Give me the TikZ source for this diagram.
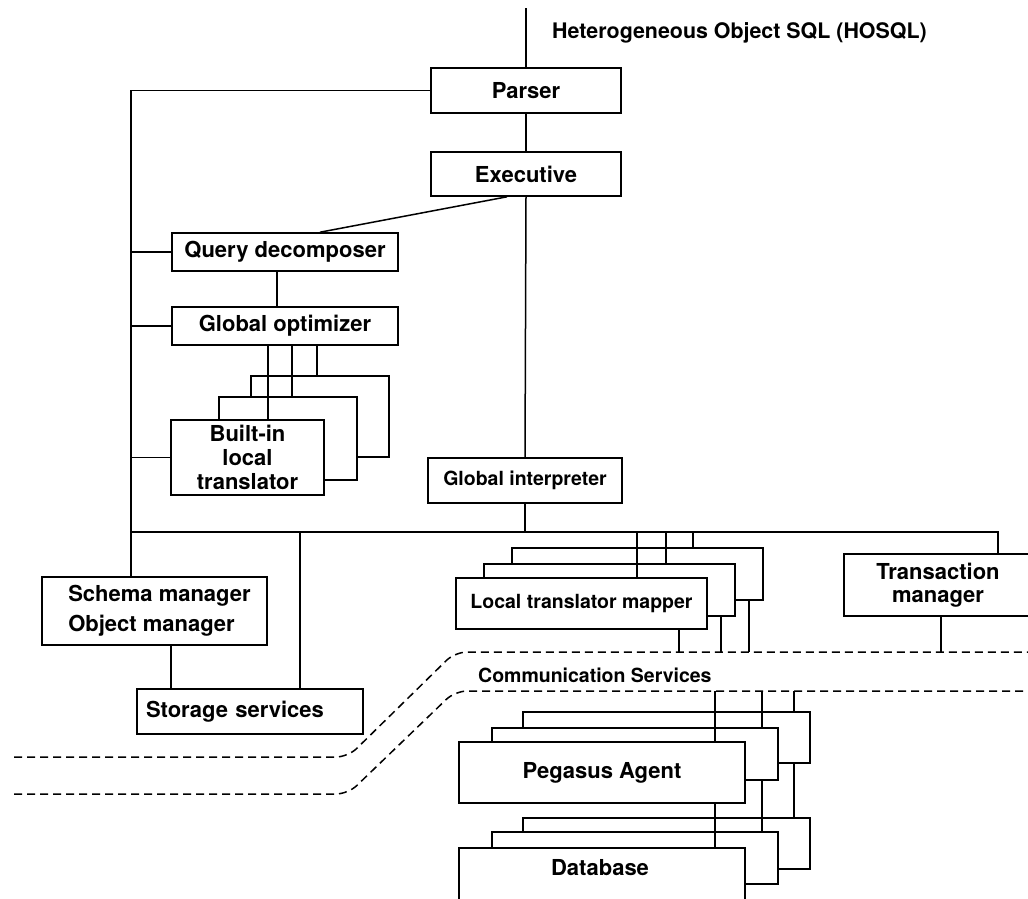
\documentclass[tikz,border=0pt]{standalone}
\usepackage{fontspec}
\setmainfont{TeX Gyre Heros}
\begin{document}
\begin{tikzpicture}[x=1pt,y=-1pt,
  every node/.style={font=\bfseries\fontsize{22}{26}\selectfont},
  smaller/.style={font=\bfseries\fontsize{19.5}{23}\selectfont},
  box/.style={draw, fill=white, line width=1.6pt, inner sep=0pt, align=center},
  wire/.style={line width=1.5pt},
  netline/.style={line width=1.5pt, dash pattern=on 8pt off 5pt, rounded corners=12pt}]
\useasboundingbox (0,0) rectangle (1028,898);
\clip (0,0) rectangle (1028,898);

% --- upper chain: parser, executive, decomposer, optimizer
\node[box, minimum width=190pt, minimum height=45pt] (parser) at (526,90.5) {Parser};
\node[box, minimum width=190pt, minimum height=44pt] (exec) at (526,174) {Executive};
\node[box, minimum width=226pt, minimum height=38pt] (qd) at (285,252) {Query decomposer};
\node[box, minimum width=226pt, minimum height=38pt] (go) at (285,326) {Global optimizer};

% --- stacked built-in translators (back to front)
\node[box, minimum width=138pt, minimum height=81pt] (bt3) at (320,416.5) {};
\node[box, minimum width=138pt, minimum height=83pt] (bt2) at (288,438.5) {};
\node[box, minimum width=153pt, minimum height=75pt,
      font=\bfseries\fontsize{22}{24}\selectfont] (bt) at (247.5,457.5) {Built-in\\local\\translator};

\node[box, smaller, minimum width=194pt, minimum height=45pt] (gi) at (525,480.5) {Global interpreter};

% --- local managers
\node[box, minimum width=225pt, minimum height=68pt, align=left,
      font=\bfseries\fontsize{22}{30}\selectfont] (sm) at (154.5,611)
      {\hspace*{10pt}Schema manager\\\hspace*{10pt}Object manager};
\node[box, minimum width=226pt, minimum height=45pt, text width=208pt, align=left] (ss) at (250,711.5) {Storage services};

% --- stacked local translator mappers
\node[box, minimum width=251pt, minimum height=52pt] (ltm3) at (637.5,574) {};
\node[box, minimum width=251pt, minimum height=52pt] (ltm2) at (609.5,590) {};
\node[box, smaller, minimum width=251pt, minimum height=51pt] (ltm) at (581.5,603.5) {Local translator mapper};

\node[box, minimum width=188pt, minimum height=62pt,
      font=\bfseries\fontsize{22}{23}\selectfont] (tm) at (938,585) {Transaction\\manager};

% --- remote side: agents and databases
\node[box, minimum width=287pt, minimum height=51pt] (pa3) at (666.5,737.5) {};
\node[box, minimum width=286pt, minimum height=52pt] (pa2) at (635,754) {};
\node[box, minimum width=286pt, minimum height=61pt] (pa) at (602,772.5) {Pegasus Agent};

\node[box, minimum width=287pt, minimum height=51pt] (db3) at (666.5,843.5) {};
\node[box, minimum width=286pt, minimum height=52pt] (db2) at (635,858) {};
\node[box, minimum width=286pt, minimum height=60pt] (db) at (602,878) {};
\node[inner sep=0pt] (dblabel) at (600,868) {Database};

% --- free labels
\node[anchor=west, inner sep=0pt, font=\bfseries\fontsize{21.4}{26}\selectfont] (hosql) at (552,33) {Heterogeneous Object SQL (HOSQL)};
\node[anchor=west, inner sep=0pt, smaller] (cs) at (478,675) {Communication Services};

% --- network boundary (dashed)
\coordinate (cstop) at (0,652);
\coordinate (csbot) at (0,691);
\draw[netline] (14,757) -- (348,757) -- (455,652) -- (1040,652);
\draw[netline] (14,794) -- (348,794) -- (455,691) -- (1040,691);

% --- connectors
\coordinate (src) at (526,8);
\coordinate (bus) at (131,532);
\draw[wire] (src) -- (parser.north);
\draw[wire] (parser.south) -- (exec.north);
\draw[wire] (exec.south) -- (gi.north);
\draw[wire] (exec.south -| 507,0) -- (qd.north -| 320,0);
\draw[wire] (qd.south -| 277,0) -- (go.north -| 277,0);
\draw[wire] (go.south -| 268,0) -- (bt.north -| 268,0);
\draw[wire] (go.south -| 292,0) -- (bt2.north -| 292,0);
\draw[wire] (go.south -| 317,0) -- (bt3.north -| 317,0);

\draw[wire] (parser.west) -| (sm.north -| bus);
\draw[wire] (qd.west) -- (qd.west -| bus);
\draw[wire] (go.west) -- (go.west -| bus);
\draw[wire] (bt.west) -- (bt.west -| bus);
\draw[wire] (bus) -- (bus -| 998,0) -- (tm.north -| 998,0);
\draw[wire] (gi.south) -- (gi.south |- bus);
\draw[wire] (bus -| 300,0) -- (ss.north -| 300,0);
\draw[wire] (sm.south -| 171,0) -- (ss.north -| 171,0);

\draw[wire] (bus -| 637,0) -- (ltm.north -| 637,0);
\draw[wire] (bus -| 666,0) -- (ltm2.north -| 666,0);
\draw[wire] (bus -| 693,0) -- (ltm3.north -| 693,0);
\draw[wire] (ltm.south -| 679,0) -- (cstop -| 679,0);
\draw[wire] (ltm2.south -| 721,0) -- (cstop -| 721,0);
\draw[wire] (ltm3.south -| 749,0) -- (cstop -| 749,0);
\draw[wire] (tm.south -| 941,0) -- (cstop -| 941,0);

\draw[wire] (csbot -| 715,0) -- (pa.north -| 715,0);
\draw[wire] (csbot -| 762,0) -- (pa2.north -| 762,0);
\draw[wire] (csbot -| 794,0) -- (pa3.north -| 794,0);
\draw[wire] (pa.south -| 715,0) -- (db.north -| 715,0);
\draw[wire] (pa2.south -| 762,0) -- (db2.north -| 762,0);
\draw[wire] (pa3.south -| 794,0) -- (db3.north -| 794,0);
\end{tikzpicture}
\end{document}
